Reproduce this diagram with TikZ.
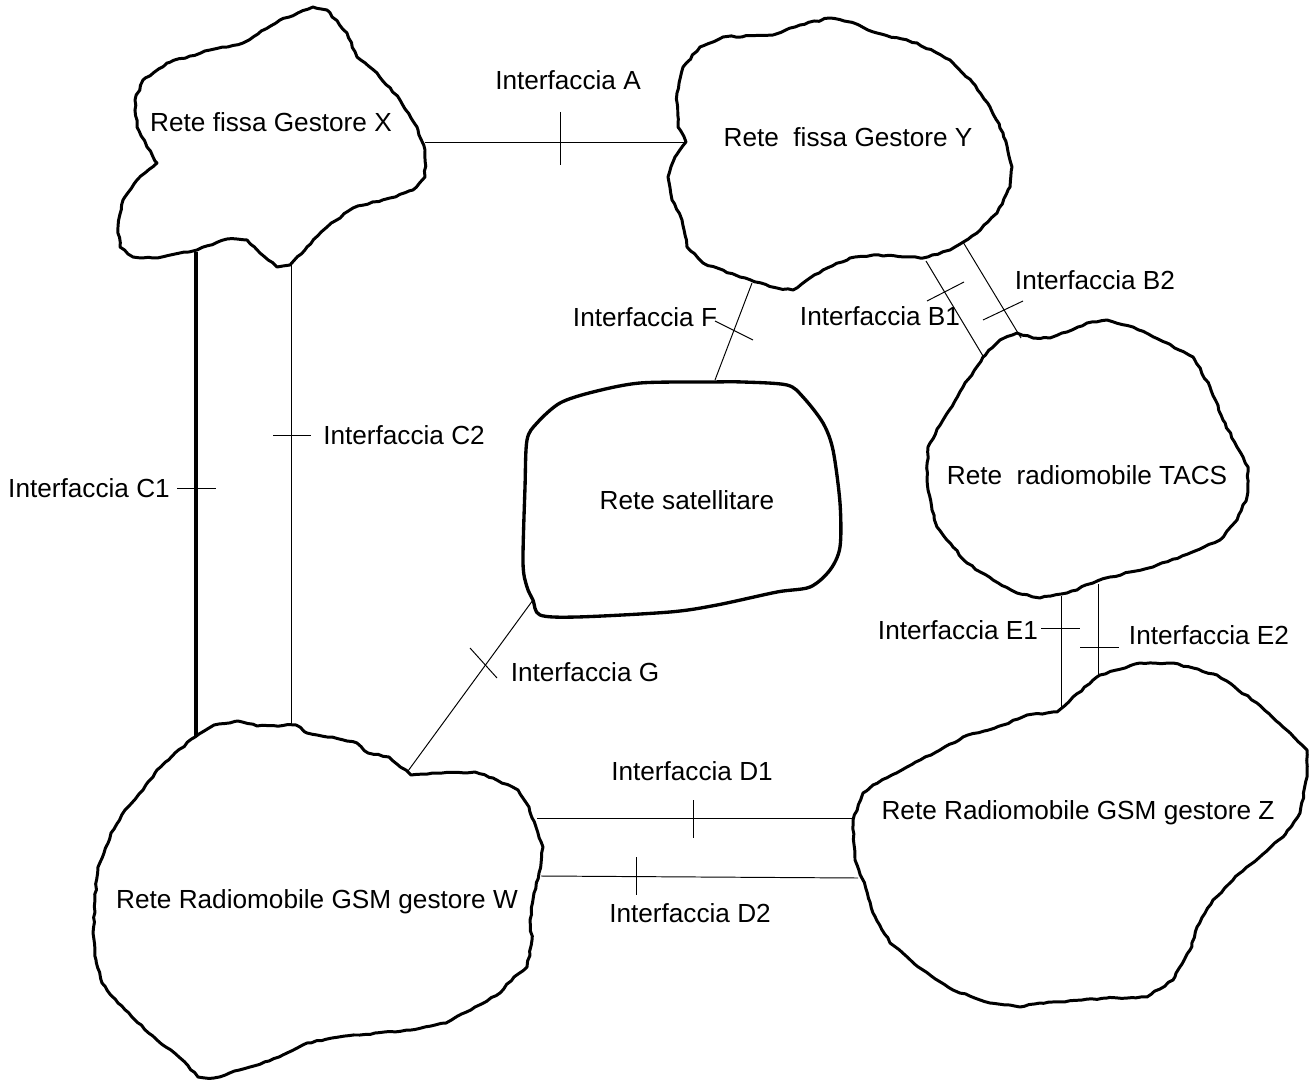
\documentclass[tikz,border=0pt]{standalone}
\usepackage{fontspec}
\setmainfont{Liberation Sans}
\usetikzlibrary{decorations.pathmorphing}
\begin{document}
\begin{tikzpicture}[x=0.02cm,y=-0.02cm,
  blob/.style={line width=1.7pt, line join=round, decorate,
    decoration={random steps, segment length=3pt, amplitude=0.45pt}},
  smoothblob/.style={line width=1.9pt, line join=round},
  link/.style={line width=0.55pt},
  thicklink/.style={line width=1.8pt},
  tick/.style={line width=0.55pt},
  lbl/.style={font=\fontsize{14.9}{17}\selectfont, inner sep=0pt}]
\pgfmathsetseed{7}
\useasboundingbox (0,0) rectangle (1315,1081);

% ---------- blobs ----------
% Rete fissa Gestore X
\draw[blob] plot[sharp cycle] coordinates {
 (313,7) (280,20) (243,43) (210,50) (167,63) (143,80) (135,100) (137,127)
 (147,147) (157,163) (137,180) (123,200) (118,227) (120,247) (133,257) (153,258)
 (197,250) (227,239) (247,240) (260,253) (277,267) (290,265) (307,247) (327,227)
 (353,208) (390,198) (413,190) (425,177) (425,150) (417,127) (400,100) (377,73)
 (357,57) (347,33) (327,10)};
% Rete fissa Gestore Y
\draw[blob] plot[sharp cycle] coordinates {
 (830,18) (800,25) (773,35) (723,37) (700,47) (683,67) (677,93) (678,127)
 (686,142) (675,157) (668,177) (672,200) (682,220) (687,247) (703,263) (740,277)
 (777,288) (793,290) (823,270) (850,258) (873,255) (923,258) (950,250) (977,233)
 (997,213) (1010,187) (1012,167) (1003,133) (990,107) (973,83) (950,60) (917,43)
 (877,33) (850,22)};
% Rete radiomobile TACS
\draw[blob] plot[sharp cycle] coordinates {
 (1033,338) (1017,333) (1000,340) (983,357) (963,387) (943,420) (928,447) (927,480)
 (932,510) (937,527) (953,547) (967,563) (993,580) (1017,593) (1040,598) (1067,593)
 (1093,583) (1110,577) (1153,567) (1190,553) (1220,540) (1237,520) (1247,497) (1248,467)
 (1237,447) (1223,420) (1210,387) (1193,357) (1167,343) (1133,327) (1107,320) (1087,323)
 (1067,332) (1050,338)};
% Rete satellitare
\draw[smoothblob] plot[smooth cycle, tension=0.5] coordinates {
 (640,383) (593,392) (560,403) (537,423) (527,440) (525,487) (523,563) (527,587)
 (533,600) (540,615) (577,617) (670,612) (717,605) (777,592) (810,587) (830,570)
 (840,547) (840,503) (833,450) (823,423) (803,397) (787,385) (743,382) (710,382)};
% Rete Radiomobile GSM gestore Z
\draw[blob] plot[sharp cycle] coordinates {
 (1057,712) (1073,697) (1100,675) (1140,663) (1173,663) (1217,675) (1257,703) (1283,727)
 (1307,750) (1307,777) (1300,813) (1283,837) (1240,873) (1213,900) (1197,927) (1190,950)
 (1173,980) (1147,997) (1107,998) (1040,1003) (1020,1007) (990,1003) (953,990) (923,970)
 (890,943) (873,913) (863,880) (855,860) (853,820) (863,793) (873,785) (907,767)
 (940,750) (963,737) (1003,725) (1027,715)};
% Rete Radiomobile GSM gestore W
\draw[blob] plot[sharp cycle] coordinates {
 (195,737) (214,725) (238,721) (257,726) (296,725) (307,733) (332,737) (357,743)
 (368,753) (389,757) (411,775) (436,773) (475,772) (493,778) (518,790) (529,807)
 (536,827) (543,847) (539,873) (534,893) (530,920) (532,940) (527,967) (514,977)
 (500,993) (475,1007) (446,1023) (411,1030) (375,1033) (332,1038) (307,1043) (279,1057)
 (250,1067) (214,1078) (198,1077) (179,1057) (157,1040) (132,1017) (118,1003) (102,983)
 (96,960) (93,933) (95,900) (98,867) (104,853) (111,833) (125,810) (143,790)
 (157,770) (175,753)};

% ---------- blob labels ----------
\node[lbl] (nX) at (271,122) {Rete fissa Gestore X};
\node[lbl] (nY) at (848,137) {Rete\ \ fissa Gestore Y};
\node[lbl] (nT) at (1087,475) {Rete\ \ radiomobile TACS};
\node[lbl] (nS) at (687,500) {Rete satellitare};
\node[lbl] (nZ) at (1078,813) {Rete Radiomobile GSM gestore Z};
\node[lbl] (nW) at (317,902) {Rete Radiomobile GSM gestore W};

% ---------- connection end points ----------
\coordinate (xA) at (425,142);  \coordinate (yA) at (686,142);
\coordinate (yB1) at (926,261); \coordinate (tB1) at (983,356);
\coordinate (yB2) at (963,242); \coordinate (tB2) at (1021,338);
\coordinate (yF) at (752,283);  \coordinate (sF) at (715,380);
\coordinate (xC1) at (196,252); \coordinate (wC1) at (196,736);
\coordinate (xC2) at (291,265); \coordinate (wC2) at (291,724);
\coordinate (sG) at (533,600);  \coordinate (wG) at (408,771);
\coordinate (tE1) at (1061,596);\coordinate (zE1) at (1061,707);
\coordinate (tE2) at (1098,584);\coordinate (zE2) at (1098,677);
\coordinate (wD1) at (537,818); \coordinate (zD1) at (854,818);
\coordinate (wD2) at (541,876); \coordinate (zD2) at (858,878);

% ---------- connectors ----------
\draw[link] (xA) -- (yA);
\draw[link] (yB1) -- (tB1);
\draw[link] (yB2) -- (tB2);
\draw[link] (yF) -- (sF);
\draw[thicklink] (xC1) -- (wC1);
\draw[link] (xC2) -- (wC2);
\draw[link] (sG) -- (wG);
\draw[link] (tE1) -- (zE1);
\draw[link] (tE2) -- (zE2);
\draw[link] (wD1) -- (zD1);
\draw[link] (wD2) -- (zD2);

% ---------- ticks ----------
\coordinate (kA1) at (560,112);  \coordinate (kA2) at (560,165);
\coordinate (kB11) at (927,301); \coordinate (kB12) at (964,282);
\coordinate (kB21) at (983,320); \coordinate (kB22) at (1023,301);
\coordinate (kF1) at (715,321);  \coordinate (kF2) at (753,340);
\coordinate (kC11) at (177,488); \coordinate (kC12) at (216,488);
\coordinate (kC21) at (273,435); \coordinate (kC22) at (311,435);
\coordinate (kG1) at (470,648);  \coordinate (kG2) at (497,678);
\coordinate (kE11) at (1041,628);\coordinate (kE12) at (1080,628);
\coordinate (kE21) at (1080,647);\coordinate (kE22) at (1119,647);
\coordinate (kD11) at (693,800); \coordinate (kD12) at (693,838);
\coordinate (kD21) at (636,857); \coordinate (kD22) at (636,895);
\foreach \a/\b in {kA1/kA2,kB11/kB12,kB21/kB22,kF1/kF2,kC11/kC12,kC21/kC22,kG1/kG2,kE11/kE12,kE21/kE22,kD11/kD12,kD21/kD22}
  \draw[tick] (\a) -- (\b);

% ---------- interface labels ----------
\node[lbl] (lA) at (568,80) {Interfaccia A};
\node[lbl] (lB2) at (1095,280) {Interfaccia B2};
\node[lbl] (lB1) at (880,316) {Interfaccia B1};
\node[lbl] (lF) at (645,317) {Interfaccia F};
\node[lbl] (lC2) at (404,435) {Interfaccia C2};
\node[lbl] (lC1) at (89,488) {Interfaccia C1};
\node[lbl] (lE1) at (958,630) {Interfaccia E1};
\node[lbl] (lE2) at (1209,635) {Interfaccia E2};
\node[lbl] (lG) at (585,672) {Interfaccia G};
\node[lbl] (lD1) at (692,771) {Interfaccia D1};
\node[lbl] (lD2) at (690,913) {Interfaccia D2};
\end{tikzpicture}
\end{document}
